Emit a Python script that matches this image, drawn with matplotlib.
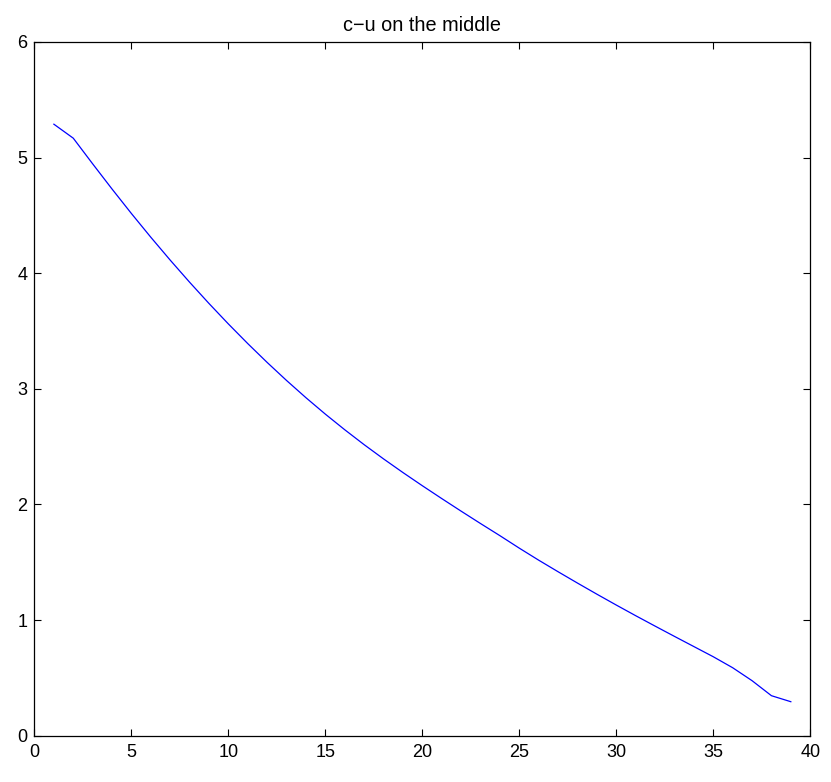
import matplotlib
matplotlib.use("Agg")
import matplotlib.pyplot as plt

plt.rcParams['font.family'] = ['Liberation Sans', 'DejaVu Sans']

x_values = list(range(1, 40))
y_values = [5.289, 5.168, 4.946, 4.728, 4.516, 4.311, 4.113, 3.922, 3.738, 3.561,
            3.391, 3.228, 3.072, 2.923, 2.781, 2.646, 2.517, 2.394, 2.276, 2.162,
            2.051, 1.942, 1.835, 1.730, 1.622, 1.518, 1.418, 1.320, 1.224, 1.130,
            1.038, 0.948, 0.859, 0.771, 0.683, 0.588, 0.476, 0.346, 0.294]
x_ticks = [0, 5, 10, 15, 20, 25, 30, 35, 40]
y_ticks = [0, 1, 2, 3, 4, 5, 6]
title_text = "c\u2212u on the middle"

fig = plt.figure(figsize=(8.31, 7.82), dpi=100)
ax = fig.add_axes([0.0415, 0.0592, 0.9335, 0.8871])
ax.plot(x_values, y_values, color='#0000ff', lw=0.9)
ax.set_xlim(0, 40)
ax.set_ylim(0, 6)
ax.set_xticks(x_ticks)
ax.set_yticks(y_ticks)
ax.tick_params(direction='in', length=5, width=0.8, top=True, right=True,
               labelsize=13, pad=5, colors='black')
ax.tick_params(axis='x', pad=6)
for s in ax.spines.values():
    s.set_linewidth(0.9)
ax.set_title(title_text, fontsize=14.3, pad=8)
fig.savefig("out.png", dpi=100)
